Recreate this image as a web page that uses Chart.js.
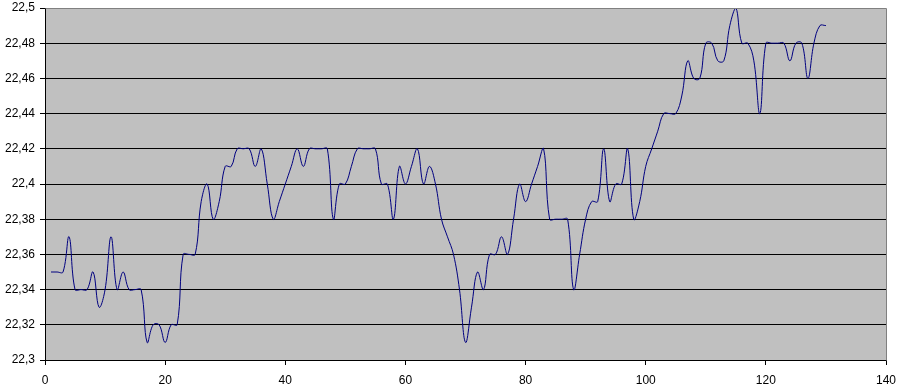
<!DOCTYPE html>
<html>
<head>
<meta charset="utf-8">
<script src="https://cdn.jsdelivr.net/npm/chart.js@4/dist/chart.umd.min.js"></script>
<style>
  html, body { margin: 0; padding: 0; background: #fff; }
  #wrap { width: 899px; height: 386px; }
</style>
</head>
<body>
<div id="wrap"><canvas id="chart" width="899" height="386"></canvas></div>
<script>
const xValues = [];
for (let i = 1; i <= 130; i++) xValues.push(i);

const temps = [
  22.35, 22.35, 22.35, 22.37, 22.34, 22.34, 22.34, 22.35, 22.33, 22.34,
  22.37, 22.34, 22.35, 22.34, 22.34, 22.34, 22.31, 22.32, 22.32, 22.31,
  22.32, 22.32, 22.36, 22.36, 22.36, 22.39, 22.40, 22.38, 22.39, 22.41,
  22.41, 22.42, 22.42, 22.42, 22.41, 22.42, 22.40, 22.38, 22.39, 22.40,
  22.41, 22.42, 22.41, 22.42, 22.42, 22.42, 22.42, 22.38, 22.40, 22.40,
  22.41, 22.42, 22.42, 22.42, 22.42, 22.40, 22.40, 22.38, 22.41, 22.40,
  22.41, 22.42, 22.40, 22.41, 22.40, 22.38, 22.37, 22.36, 22.34, 22.31,
  22.33, 22.35, 22.34, 22.36, 22.36, 22.37, 22.36, 22.38, 22.40, 22.39,
  22.40, 22.41, 22.42, 22.38, 22.38, 22.38, 22.38, 22.34, 22.36, 22.38,
  22.39, 22.39, 22.42, 22.39, 22.40, 22.40, 22.42, 22.38, 22.39, 22.41,
  22.42, 22.43, 22.44, 22.44, 22.44, 22.45, 22.47, 22.46, 22.46, 22.48,
  22.48, 22.47, 22.47, 22.49, 22.50, 22.48, 22.48, 22.47, 22.44, 22.48,
  22.48, 22.48, 22.48, 22.47, 22.48, 22.48, 22.46, 22.48, 22.49, 22.49
];

const xTicks = [0, 20, 40, 60, 80, 100, 120, 140];
const yTicks = [22.30, 22.32, 22.34, 22.36, 22.38, 22.40, 22.42, 22.44, 22.46, 22.48, 22.50];

function fmt(v) {
    let s = v.toFixed(2).replace(/0+$/, '').replace(/\.$/, '');
    return s.replace('.', ',');
}

// gray plot area plus the gray top/right frame
const plotBg = {
    id: 'plotBg',
    beforeDraw(chart) {
        const { ctx, chartArea: a } = chart;
        ctx.save();
        ctx.fillStyle = '#c0c0c0';
        ctx.fillRect(a.left, a.top, a.right - a.left, a.bottom - a.top);
        ctx.restore();
    },
    afterDraw(chart) {
        const { ctx, chartArea: a } = chart;
        ctx.save();
        ctx.strokeStyle = '#808080';
        ctx.lineWidth = 1;
        ctx.beginPath();
        ctx.moveTo(Math.round(a.left) + 0.5, Math.round(a.top) + 0.5);
        ctx.lineTo(Math.round(a.right) + 0.5, Math.round(a.top) + 0.5);
        ctx.lineTo(Math.round(a.right) + 0.5, Math.round(a.bottom) + 0.5);
        ctx.stroke();
        ctx.restore();
    }
};

const font = { family: 'Liberation Sans, Arial, sans-serif', size: 12 };

new Chart(document.getElementById('chart'), {
    type: 'line',
    data: {
        datasets: [{
            data: xValues.map((x, i) => ({ x: x, y: temps[i] })),
            borderColor: '#000080',
            borderWidth: 1,
            pointRadius: 0,
            tension: 0.4,
            fill: false
        }]
    },
    options: {
        responsive: false,
        animation: false,
        layout: { padding: { top: 8, right: 13, left: 0, bottom: 0 } },
        plugins: { legend: { display: false }, tooltip: { enabled: false } },
        scales: {
            x: {
                type: 'linear',
                min: 0,
                max: 140,
                afterBuildTicks: (s) => { s.ticks = xTicks.map(v => ({ value: v })); },
                afterFit: (s) => { s.height = 26; s.paddingLeft = 0; s.paddingRight = 0; },
                grid: { drawOnChartArea: false, tickLength: 5, color: '#000', tickColor: '#000' },
                border: { color: '#000', width: 1 },
                ticks: { color: '#000', font: font, padding: 8, maxRotation: 0 }
            },
            y: {
                min: 22.3,
                max: 22.5,
                afterBuildTicks: (s) => { s.ticks = yTicks.map(v => ({ value: v })); },
                afterFit: (s) => { s.width = 45; s.paddingTop = 0; s.paddingBottom = 0; },
                grid: { color: '#000', lineWidth: 1, tickLength: 5, tickColor: '#000' },
                border: { color: '#000', width: 1 },
                ticks: { color: '#000', font: font, padding: 5, callback: (v) => fmt(v) }
            }
        }
    },
    plugins: [plotBg]
});
</script>
</body>
</html>
